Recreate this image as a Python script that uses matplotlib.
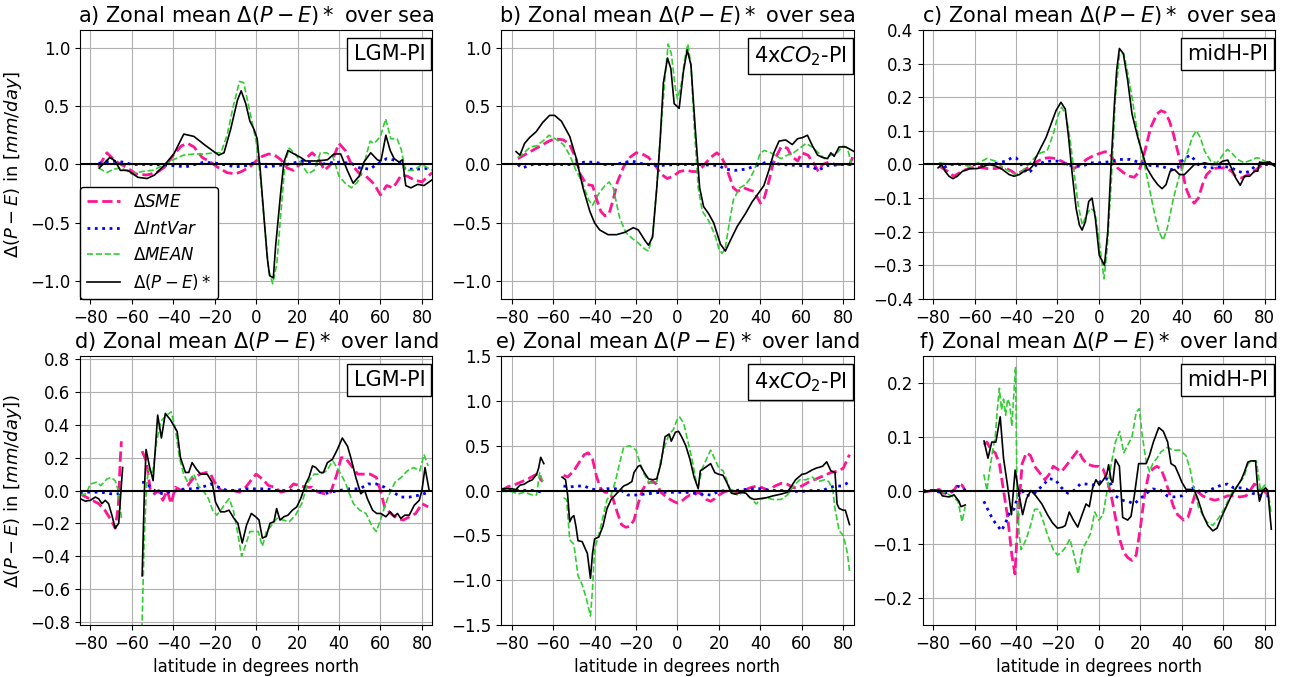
import numpy as np
import matplotlib.pyplot as plt

nan = float('nan')

# (latitude, value) pairs; nan marks the Drake passage gap over land

# a) sea, LGM-PI
a_sme = [(-76, -0.02), (-72, 0.1), (-68, 0.03), (-63, -0.02), (-58, -0.08), (-53, -0.09), (-48, -0.07),
         (-44, -0.02), (-40, 0.08), (-36, 0.16), (-33, 0.18), (-30, 0.15), (-26, 0.06), (-22, 0.02),
         (-18, -0.03), (-14, -0.07), (-10, -0.08), (-7, -0.06), (-3, -0.02), (0, 0.03), (3, 0.07),
         (6, 0.09), (9, 0.08), (12, 0.04), (15, -0.03), (18, -0.05), (21, 0.0), (24, 0.05), (27, 0.1),
         (30, 0.05), (33, -0.05), (36, 0.0), (40, 0.18), (43, 0.12), (46, 0.0), (50, -0.08), (53, -0.1),
         (56, -0.15), (58, -0.2), (60, -0.26), (63, -0.18), (66, -0.2), (68, -0.15), (70, -0.09),
         (73, -0.1), (76, -0.13), (80, -0.15), (83, -0.1), (85, -0.07)]
a_intvar = [(-76, 0.01), (-70, 0.03), (-64, 0.02), (-60, 0.0), (-50, 0.0), (-40, -0.01), (-34, -0.02),
            (-25, 0.02), (-19, 0.01), (-10, -0.02), (-5, -0.01), (0, 0.02), (5, -0.02), (15, 0.0),
            (22, 0.03), (30, 0.0), (40, 0.02), (46, 0.01), (50, -0.03), (55, -0.04), (58, 0.0),
            (63, 0.05), (66, 0.04), (70, 0.01), (72, -0.04), (78, -0.04), (85, -0.03)]
a_mean = [(-76, -0.03), (-72, -0.07), (-69, -0.04), (-65, -0.03), (-60, -0.08), (-55, -0.06), (-50, -0.05),
          (-45, -0.01), (-40, 0.04), (-35, 0.08), (-30, 0.09), (-25, 0.09), (-20, 0.1), (-17, 0.1),
          (-14, 0.25), (-11, 0.5), (-8, 0.71), (-6, 0.7), (-3, 0.45), (0, 0.2), (2, -0.1), (4, -0.5),
          (6, -0.9), (8, -1.02), (10, -0.85), (12, -0.4), (14, 0.02), (16, 0.14), (19, 0.09), (22, 0.0),
          (25, -0.08), (28, -0.05), (31, 0.1), (34, 0.1), (37, 0.07), (40, -0.1), (43, -0.16),
          (46, -0.2), (49, -0.15), (52, 0.0), (55, 0.2), (57, 0.18), (60, 0.24), (62.5, 0.39),
          (65, 0.22), (68, 0.22), (70, 0.13), (72, -0.05), (76, -0.05), (80, 0.0), (85, -0.05)]
a_pe = [(-75.7, -0.03), (-70.6, 0.06), (-68, 0.03), (-65.5, -0.05), (-62, -0.05), (-57, -0.11),
        (-52.6, -0.12), (-49, -0.09), (-44.5, -0.01), (-39.7, 0.09), (-34.9, 0.26), (-30, 0.24),
        (-25, 0.17), (-20.4, 0.11), (-18, 0.08), (-15.5, 0.1), (-12.3, 0.3), (-9, 0.55), (-7.2, 0.63),
        (-5, 0.52), (-3, 0.37), (-1, 0.3), (0.5, 0.22), (2, -0.05), (3.8, -0.45), (5.4, -0.8),
        (6.5, -0.95), (8.3, -0.97), (9.4, -0.7), (11.8, -0.25), (13.4, 0.02), (15.4, 0.12), (18.3, 0.09),
        (21.5, 0.06), (24, 0.03), (26.3, 0.03), (29.5, 0.03), (34.4, 0.04), (37.6, 0.09), (40.8, 0.09),
        (44, -0.05), (46.8, -0.16), (49.7, -0.1), (52, 0.02), (55.3, 0.1), (58.5, 0.04), (60.2, 0.03),
        (61, 0.1), (62.6, 0.25), (64.7, 0.12), (66.6, 0.05), (69, 0.02), (70.6, 0.04), (72.2, -0.18),
        (74.7, -0.2), (77.9, -0.17), (81, -0.18), (85, -0.13)]

# b) sea, 4xCO2-PI
b_sme = [(-77, 0.05), (-74, 0.08), (-70, 0.12), (-66, 0.16), (-62, 0.2), (-59, 0.22), (-55, 0.21),
         (-52, 0.17), (-49, 0.05), (-47, -0.08), (-44, -0.17), (-41, -0.18), (-39, -0.3), (-37, -0.4),
         (-35, -0.44), (-33, -0.42), (-31, -0.3), (-29, -0.15), (-26, -0.02), (-23, 0.06), (-20, 0.1),
         (-17, 0.09), (-14, 0.06), (-11, 0.0), (-8, -0.08), (-5, -0.12), (-2, -0.1), (1, -0.06),
         (4, -0.05), (7, -0.06), (10, -0.06), (13, 0.0), (16, 0.06), (19, 0.1), (21, 0.07), (23, 0.0),
         (25, -0.1), (27, -0.2), (29, -0.23), (32, -0.2), (35, -0.22), (37, -0.23), (40, -0.33),
         (42, -0.28), (44, -0.15), (46, 0.0), (48, 0.08), (50, 0.15), (53, 0.14), (55, 0.07), (58, 0.03),
         (60, 0.1), (63, 0.08), (66, 0.0), (68, -0.06), (70, 0.0), (73, 0.02), (76, 0.0), (80, 0.0),
         (83, 0.0), (85, 0.08)]
b_intvar = [(-77, 0.0), (-75, -0.03), (-70, 0.0), (-60, 0.0), (-50, 0.0), (-45, 0.02), (-40, 0.02),
            (-35, 0.0), (-30, 0.0), (-25, 0.02), (-22, 0.03), (-18, 0.01), (-15, 0.0), (-10, -0.01),
            (0, 0.0), (10, 0.0), (20, -0.01), (23, -0.04), (28, -0.05), (33, -0.04), (38, -0.01),
            (43, 0.02), (47, 0.01), (50, 0.0), (60, -0.01), (65, -0.02), (68, -0.05), (72, -0.01),
            (80, 0.0), (85, 0.0)]
b_mean = [(-77, 0.06), (-74, 0.1), (-71, 0.15), (-68, 0.16), (-65, 0.2), (-62, 0.25), (-59, 0.22),
          (-55, 0.17), (-52, 0.08), (-49, -0.05), (-46, -0.15), (-43, -0.3), (-41, -0.35), (-38, -0.25),
          (-35, -0.18), (-33, -0.15), (-31, -0.2), (-28, -0.45), (-25, -0.58), (-22, -0.63), (-19, -0.67),
          (-16, -0.72), (-14, -0.74), (-12, -0.6), (-10, -0.2), (-8, 0.3), (-6, 0.75), (-4.5, 1.03),
          (-3, 0.95), (-1, 0.65), (0, 0.56), (2, 0.7), (3.5, 0.9), (5, 1.03), (6.5, 0.85), (8, 0.35),
          (10, -0.2), (12, -0.4), (15, -0.48), (18, -0.6), (20, -0.72), (21.5, -0.76), (23, -0.72),
          (25, -0.5), (27, -0.3), (30, -0.2), (33, -0.17), (35, -0.12), (37, -0.05), (40, 0.1), (42, 0.12),
          (45, 0.1), (48, 0.07), (50, 0.05), (53, 0.08), (56, 0.1), (59, 0.14), (62, 0.18), (65, 0.15),
          (68, 0.1), (71, 0.05), (74, 0.08), (77, 0.1), (80, 0.16), (82, 0.14), (84, 0.0), (85, 0.02)]
b_pe = [(-77.9, 0.11), (-76, 0.08), (-73.8, 0.18), (-71.4, 0.23), (-68.2, 0.28), (-65, 0.36), (-61.7, 0.42),
        (-59.3, 0.42), (-56, 0.37), (-52, 0.24), (-48.8, 0.05), (-45.6, -0.2), (-42.3, -0.4), (-40, -0.5),
        (-37.5, -0.56), (-33.5, -0.6), (-29.4, -0.6), (-25.4, -0.58), (-21.3, -0.54), (-18.9, -0.56),
        (-15.7, -0.65), (-14, -0.69), (-12, -0.62), (-10, -0.2), (-8.4, 0.2), (-6.8, 0.7), (-4.8, 0.91),
        (-3.2, 0.82), (-1.6, 0.52), (0.8, 0.48), (2.9, 0.8), (4.7, 0.98), (6.5, 0.85), (8.6, 0.3),
        (10.7, -0.2), (12.6, -0.36), (15, -0.42), (17.5, -0.5), (20.7, -0.68), (23.1, -0.74),
        (25.5, -0.65), (28.8, -0.53), (32.8, -0.42), (36, -0.32), (39.3, -0.24), (41.7, -0.18),
        (44.1, -0.05), (46.5, 0.1), (49, 0.2), (52.2, 0.21), (55.4, 0.17), (57.9, 0.22), (60.3, 0.23),
        (62.7, 0.25), (65.1, 0.16), (67.6, 0.08), (70, 0.06), (72.4, 0.05), (74, 0.1), (75.6, 0.07),
        (78, 0.15), (81.2, 0.15), (85.3, 0.11)]

# c) sea, midH-PI
c_sme = [(-77, -0.005), (-73, -0.02), (-70, -0.035), (-66, -0.02), (-62, -0.01), (-58, -0.008),
         (-54, -0.012), (-50, -0.012), (-46, -0.008), (-42, -0.02), (-40, -0.03), (-37, -0.02),
         (-33, -0.005), (-30, 0.008), (-27, 0.018), (-24, 0.02), (-21, 0.018), (-18, 0.01), (-15, 0.0),
         (-12, -0.012), (-9, 0.0), (-6, 0.015), (-3, 0.025), (0, 0.032), (3, 0.038), (5, 0.035),
         (7, 0.015), (9, -0.01), (12, -0.025), (15, -0.035), (17, -0.038), (19, -0.025), (21, 0.01),
         (23, 0.06), (25, 0.11), (28, 0.15), (30, 0.16), (32, 0.155), (34, 0.13), (36, 0.09), (38, 0.04),
         (40, -0.01), (42, -0.07), (44, -0.1), (46, -0.115), (48, -0.1), (50, -0.06), (52, -0.03),
         (55, -0.012), (58, -0.01), (61, -0.01), (64, -0.02), (66, -0.035), (69, -0.04), (72, -0.03),
         (75, -0.02), (78, -0.005), (81, 0.003), (85, 0.0)]
c_intvar = [(-77, 0.005), (-75, -0.01), (-72, 0.0), (-65, 0.0), (-60, 0.0), (-55, 0.0), (-50, 0.003),
            (-45, 0.01), (-42, 0.02), (-40, 0.02), (-38, 0.005), (-35, -0.025), (-33, -0.02), (-30, 0.0),
            (-25, 0.01), (-20, 0.01), (-16, 0.0), (-12, -0.005), (-8, -0.005), (-4, 0.005), (0, 0.005),
            (5, 0.008), (10, 0.015), (15, 0.015), (20, 0.005), (25, -0.003), (30, -0.005), (35, -0.015),
            (38, -0.01), (40, 0.01), (42, 0.02), (44, 0.028), (46, 0.015), (48, 0.0), (52, -0.01),
            (55, -0.01), (60, -0.005), (64, -0.01), (67, -0.02), (70, -0.025), (73, -0.02), (76, 0.0),
            (80, 0.0), (85, 0.0)]
c_mean = [(-77, 0.005), (-72, 0.0), (-68, 0.003), (-63, -0.005), (-58, 0.005), (-54, 0.018), (-50, 0.01),
          (-46, -0.01), (-42, -0.025), (-40, -0.03), (-37, -0.02), (-34, 0.0), (-31, 0.02), (-28, 0.035),
          (-25, 0.04), (-22, 0.09), (-20, 0.14), (-18, 0.17), (-16, 0.15), (-14, 0.08), (-12, -0.02),
          (-10, -0.12), (-8, -0.18), (-6, -0.15), (-4, -0.13), (-2, -0.14), (0, -0.22), (2.5, -0.34),
          (4, -0.25), (6, -0.05), (8, 0.2), (10, 0.33), (12, 0.33), (14, 0.27), (16, 0.2), (18, 0.12),
          (20, 0.05), (22, 0.0), (24, -0.06), (27, -0.15), (29, -0.2), (31, -0.225), (33, -0.19),
          (36, -0.1), (39, -0.03), (41, 0.0), (43, 0.04), (45, 0.08), (47, 0.1), (49, 0.08), (51, 0.04),
          (54, 0.01), (57, 0.005), (60, 0.03), (62, 0.045), (64, 0.035), (67, 0.015), (70, 0.005),
          (73, 0.012), (76, 0.02), (78, 0.018), (80, 0.01), (83, 0.003), (85, 0.0)]
c_pe = [(-77.6, -0.01), (-75.8, 0.0), (-74.2, -0.02), (-72.3, -0.035), (-70.4, -0.042), (-68.3, -0.035),
        (-65.8, -0.02), (-62.6, -0.013), (-58.6, -0.012), (-55.4, -0.005), (-53, 0.0), (-49.7, -0.005),
        (-46.5, -0.015), (-43.3, -0.03), (-40.9, -0.035), (-38.4, -0.03), (-36, -0.02), (-33.6, -0.015),
        (-32, -0.005), (-30.4, 0.02), (-28, 0.05), (-25.5, 0.08), (-23.1, 0.12), (-20.7, 0.16),
        (-18.3, 0.185), (-16.2, 0.165), (-14.6, 0.08), (-13, -0.02), (-11, -0.13), (-9.4, -0.18),
        (-8.1, -0.195), (-6.5, -0.17), (-4.9, -0.11), (-3.3, -0.1), (-1.7, -0.16), (0.2, -0.27),
        (2.7, -0.3), (4.3, -0.2), (5.9, 0.0), (7.5, 0.18), (8.6, 0.28), (9.9, 0.345), (11.8, 0.33),
        (13.9, 0.25), (16, 0.15), (18.8, 0.08), (21.2, 0.03), (23.1, -0.01), (26, -0.04), (28.4, -0.06),
        (30.5, -0.072), (32.4, -0.06), (34.4, -0.02), (36.5, -0.015), (38.9, -0.03), (41.3, -0.03),
        (43.7, -0.015), (46.1, 0.0), (48.5, 0.0), (51, 0.005), (54.2, 0.0), (57.4, 0.0), (59.8, 0.01),
        (62.2, 0.013), (63.9, -0.01), (66, -0.04), (68.2, -0.062), (70.3, -0.035), (72.7, -0.035),
        (75.1, -0.02), (76.7, -0.02), (77.5, 0.007), (80, 0.005), (82.4, 0.008), (84.8, -0.005)]

# d) land, LGM-PI
d_sme = [(-85, -0.02), (-82, -0.04), (-79, -0.06), (-76, -0.08), (-73, -0.12), (-70, -0.18), (-68, -0.23),
         (-66.5, -0.1), (-65.5, 0.2), (-65, 0.3), (-60, nan),
         (-55, 0.24), (-53, 0.18), (-51, 0.0), (-49, -0.02), (-47, 0.0), (-45, -0.06), (-43, 0.0),
         (-41, -0.08), (-39, 0.02), (-36, 0.0), (-33, 0.03), (-30, 0.08), (-27, 0.1), (-24, 0.11),
         (-22, 0.1), (-20, 0.05), (-17, 0.0), (-14, 0.0), (-11, 0.0), (-8, -0.01), (-5, 0.02), (-2, 0.07),
         (0, 0.1), (3, 0.07), (6, 0.03), (9, 0.02), (12, -0.01), (15, 0.0), (18, 0.04), (21, 0.03),
         (24, 0.02), (27, 0.02), (30, -0.01), (33, -0.02), (36, -0.01), (39, 0.1), (41, 0.2), (43, 0.2),
         (46, 0.15), (49, 0.1), (52, 0.1), (55, 0.1), (58, 0.08), (60, 0.0), (62, -0.1), (65, -0.14),
         (68, -0.17), (71, -0.18), (74, -0.16), (77, -0.14), (80, -0.08), (83, -0.1)]
d_intvar = [(-85, -0.01), (-80, -0.01), (-75, -0.01), (-70, -0.02), (-66, -0.02), (-65, 0.0), (-60, nan),
            (-55, 0.05), (-53, 0.05), (-51, 0.02), (-48, -0.01), (-45, -0.02), (-42, -0.01), (-38, 0.0),
            (-34, 0.01), (-30, 0.01), (-26, 0.02), (-22, 0.04), (-18, 0.02), (-14, 0.0), (-10, 0.0),
            (-5, 0.01), (0, 0.01), (5, 0.01), (10, 0.0), (15, 0.0), (20, 0.0), (25, 0.0), (30, 0.0),
            (33, -0.02), (36, -0.01), (40, 0.0), (45, 0.01), (50, 0.01), (54, 0.04), (58, 0.04),
            (62, 0.02), (66, -0.01), (70, -0.04), (74, -0.04), (78, -0.03), (81, -0.02), (83, -0.01)]
d_mean = [(-85, -0.03), (-82, -0.02), (-80, 0.04), (-77, 0.05), (-75, 0.03), (-72, 0.07), (-70, 0.08),
          (-68, 0.06), (-66.5, 0.0), (-65, -0.17), (-60, nan),
          (-55.2, -0.9), (-54, -0.3), (-53, 0.0), (-52, 0.13), (-50, 0.1), (-48, 0.3), (-46, 0.42),
          (-44, 0.45), (-41, 0.48), (-39, 0.38), (-37, 0.2), (-35, 0.1), (-33, 0.05), (-30, 0.1),
          (-28, 0.03), (-25, -0.01), (-23, -0.05), (-21, -0.12), (-19, -0.15), (-17, -0.12), (-15, -0.08),
          (-13, -0.05), (-11, -0.12), (-9, -0.25), (-7, -0.4), (-5, -0.33), (-3, -0.25), (-1, -0.25),
          (1, -0.25), (3, -0.34), (5, -0.25), (7, -0.22), (10, -0.17), (13, -0.18), (16, -0.19),
          (19, -0.15), (22, -0.08), (25, 0.05), (28, 0.1), (31, 0.1), (34, 0.12), (37, 0.18), (40, 0.12),
          (43, 0.05), (45, -0.02), (47, -0.08), (50, -0.12), (53, -0.14), (56, -0.22), (58, -0.25),
          (60, -0.18), (62, -0.1), (64, -0.03), (67, 0.05), (70, 0.08), (73, 0.12), (76, 0.14),
          (79, 0.12), (81, 0.22), (83, 0.15)]
d_pe = [(-84.9, -0.05), (-82.4, -0.065), (-80, -0.06), (-77.6, -0.04), (-76, -0.05), (-74.4, -0.08),
        (-72.8, -0.06), (-71.2, -0.08), (-69.6, -0.15), (-68, -0.23), (-66.3, -0.2), (-65.2, 0.0),
        (-64.4, 0.14), (-60, nan),
        (-55, -0.52), (-53.9, 0.0), (-53.1, 0.25), (-51.5, 0.15), (-49.7, 0.06), (-47.5, 0.46),
        (-45.7, 0.32), (-43.8, 0.47), (-41.3, 0.43), (-38.1, 0.36), (-36.5, 0.2), (-34.1, 0.11),
        (-32.5, 0.11), (-30.9, 0.17), (-28.8, 0.13), (-26.8, 0.1), (-23.6, 0.1), (-21.2, 0.05),
        (-19.6, -0.07), (-17.2, -0.13), (-15.2, -0.13), (-13.1, -0.12), (-10.7, -0.17), (-8.8, -0.2),
        (-6.7, -0.32), (-4.6, -0.21), (-2.3, -0.14), (-0.2, -0.16), (1.4, -0.18), (3, -0.29),
        (4.9, -0.28), (6.7, -0.2), (8.6, -0.19), (9.9, -0.11), (11.5, -0.18), (13.4, -0.16),
        (15.4, -0.15), (17.5, -0.12), (19.6, -0.1), (21.5, -0.05), (23.9, 0.04), (25.5, 0.08),
        (27.2, 0.15), (28.8, 0.14), (30.9, 0.11), (32.5, 0.11), (34.4, 0.17), (36.8, 0.19), (39.2, 0.25),
        (41.6, 0.32), (44.1, 0.27), (45.7, 0.2), (48.1, 0.08), (50.5, -0.02), (52.4, 0.0), (53.7, -0.05),
        (56.2, -0.12), (58.2, -0.14), (60.2, -0.14), (62.6, -0.16), (64.7, -0.13), (66.6, -0.16),
        (68.2, -0.14), (69.8, -0.17), (71.8, -0.15), (73.9, -0.15), (76.3, -0.09), (78.7, -0.06),
        (80, 0.0), (81.5, 0.14), (83.5, 0.0)]

# e) land, 4xCO2-PI
e_sme = [(-85, 0.0), (-82, 0.04), (-78, 0.07), (-75, 0.1), (-72, 0.13), (-69, 0.17), (-67, 0.19),
         (-66, 0.12), (-65, 0.1), (-60, nan),
         (-55, 0.17), (-53, 0.15), (-50, 0.22), (-47, 0.33), (-45, 0.4), (-43, 0.42), (-41, 0.35),
         (-39, 0.15), (-37, 0.02), (-35, -0.02), (-33, -0.02), (-31, -0.1), (-29, -0.25), (-27, -0.38),
         (-25, -0.41), (-23, -0.4), (-21, -0.33), (-19, -0.15), (-17, 0.0), (-15, 0.08), (-12, 0.1),
         (-10, 0.07), (-8, -0.02), (-5, -0.08), (-2, -0.12), (0, -0.14), (2, -0.12), (4, -0.08),
         (6, -0.05), (8, -0.05), (10, -0.02), (12, -0.05), (14, -0.1), (16, -0.12), (18, -0.09),
         (20, -0.05), (23, -0.01), (26, 0.0), (29, -0.02), (32, 0.0), (35, 0.03), (38, 0.05), (41, 0.03),
         (44, 0.0), (47, 0.05), (50, 0.08), (53, 0.07), (56, 0.03), (60, 0.05), (63, 0.09), (66, 0.12),
         (70, 0.16), (74, 0.2), (78, 0.22), (80, 0.25), (82, 0.35), (83, 0.4)]
e_intvar = [(-85, 0.0), (-80, 0.0), (-75, 0.0), (-70, 0.0), (-67, -0.01), (-65, -0.02), (-60, nan),
            (-55, 0.05), (-52, 0.04), (-48, 0.05), (-45, 0.05), (-42, 0.02), (-38, 0.0), (-34, 0.02),
            (-30, 0.02), (-27, 0.0), (-24, -0.05), (-20, -0.05), (-16, -0.04), (-12, -0.03), (-8, -0.02),
            (-4, -0.02), (0, -0.02), (4, -0.02), (8, -0.03), (12, -0.04), (16, -0.05), (20, -0.01),
            (24, 0.0), (28, 0.0), (32, 0.01), (36, 0.02), (40, 0.02), (45, 0.0), (50, 0.0), (55, -0.01),
            (60, -0.01), (65, 0.0), (70, 0.0), (73, 0.03), (76, 0.05), (79, 0.05), (81, 0.07), (83, 0.1)]
e_mean = [(-85, -0.01), (-80, -0.01), (-77, -0.04), (-74, -0.02), (-70, -0.05), (-68, -0.05),
          (-66.5, 0.2), (-65, 0.1), (-60, nan),
          (-55, -0.08), (-53.5, -0.1), (-52, -0.55), (-50, -0.6), (-48, -0.95), (-46, -1.05), (-44, -1.2),
          (-42, -1.4), (-41, -1.1), (-40, -0.65), (-38, -0.5), (-36, -0.3), (-34, -0.1), (-32, -0.05),
          (-30, 0.1), (-28, 0.3), (-26, 0.48), (-23, 0.5), (-20, 0.45), (-18, 0.3), (-16, 0.18),
          (-14, 0.1), (-12, 0.08), (-10, 0.1), (-8, 0.35), (-6, 0.5), (-4, 0.63), (-2, 0.68), (0, 0.8),
          (1, 0.82), (3, 0.75), (5, 0.55), (7, 0.35), (9, 0.1), (10, 0.05), (12, 0.25), (14, 0.35),
          (16, 0.45), (18, 0.35), (20, 0.25), (22, 0.22), (24, 0.1), (26, -0.02), (29, -0.05),
          (32, -0.02), (35, -0.08), (38, -0.15), (40, -0.1), (43, -0.08), (46, -0.1), (50, -0.1),
          (53, -0.05), (56, 0.05), (59, 0.12), (62, 0.12), (65, 0.15), (68, 0.1), (71, 0.12), (73, 0.1),
          (75, 0.0), (76, -0.2), (78, -0.45), (80, -0.5), (82, -0.7), (83, -0.9)]
e_pe = [(-85, 0.02), (-82, 0.02), (-80, 0.02), (-78, 0.01), (-76, 0.06), (-74, 0.07), (-72, 0.1),
        (-70, 0.12), (-68, 0.18), (-67, 0.25), (-66, 0.37), (-64.5, 0.3), (-60, nan),
        (-55.7, 0.15), (-54, 0.12), (-53, -0.05), (-52, -0.35), (-51, -0.3), (-50, -0.28), (-49, -0.4),
        (-48, -0.56), (-46, -0.57), (-44.5, -0.65), (-43.5, -0.7), (-42, -0.98), (-41, -0.7),
        (-40, -0.54), (-38, -0.52), (-36, -0.4), (-34, -0.2), (-32, -0.1), (-30, -0.05), (-28, 0.0),
        (-26, 0.05), (-24, 0.07), (-22, 0.1), (-21, 0.2), (-19, 0.27), (-18, 0.28), (-16, 0.2),
        (-14, 0.13), (-12, 0.12), (-10, 0.13), (-8, 0.3), (-6, 0.6), (-4, 0.63), (-3, 0.55), (-1, 0.65),
        (0.5, 0.66), (2, 0.6), (4, 0.5), (6, 0.35), (8, 0.15), (10, 0.02), (11, 0.22), (13, 0.25),
        (16, 0.3), (18, 0.2), (20, 0.18), (22, 0.17), (24, 0.08), (26, -0.03), (28, -0.04), (31, -0.02),
        (33, -0.03), (35, -0.08), (37, -0.1), (40, -0.09), (43, -0.08), (46, -0.06), (50, -0.04),
        (53, -0.02), (55, 0.05), (57, 0.12), (60, 0.18), (62, 0.19), (65, 0.23), (67, 0.25), (70, 0.27),
        (72, 0.32), (74, 0.22), (76, 0.2), (77, -0.15), (78, -0.2), (80, -0.22), (81, -0.22),
        (83, -0.38)]

# f) land, midH-PI
f_sme = [(-85, -0.003), (-80, 0.0), (-77, 0.002), (-75, -0.005), (-72, -0.005), (-70, 0.0), (-68, 0.012),
         (-66, 0.01), (-64.5, 0.0), (-60, nan),
         (-55.5, 0.085), (-54, 0.09), (-52, 0.075), (-50, 0.07), (-48, 0.05), (-46, 0.0), (-44, -0.05),
         (-42, -0.12), (-40.5, -0.155), (-39, -0.05), (-37, 0.05), (-35, 0.07), (-33, 0.065),
         (-31, 0.045), (-28, 0.03), (-26, 0.02), (-24, 0.03), (-22, 0.045), (-20, 0.04), (-18, 0.035),
         (-16, 0.045), (-14, 0.055), (-12, 0.065), (-10, 0.075), (-8, 0.06), (-6, 0.05), (-4, 0.047),
         (-2, 0.045), (0, 0.045), (2, 0.04), (4, 0.02), (6, -0.01), (8, -0.05), (10, -0.09),
         (12, -0.115), (14, -0.125), (16, -0.13), (18, -0.12), (20, -0.07), (22, -0.01), (24, 0.03),
         (26, 0.04), (28, 0.045), (30, 0.04), (32, 0.02), (34, -0.005), (36, -0.03), (38, -0.045),
         (41, -0.055), (43, -0.05), (45, -0.025), (47, 0.0), (50, -0.01), (53, -0.015), (56, -0.018),
         (59, -0.015), (62, -0.01), (65, -0.01), (68, -0.012), (71, -0.01), (73, 0.0), (75, 0.012),
         (77, 0.005), (79, 0.0), (81, -0.005), (83, -0.012)]
f_intvar = [(-85, 0.0), (-80, 0.0), (-75, -0.005), (-72, -0.003), (-70, 0.0), (-68, 0.008), (-66, 0.005),
            (-64.5, 0.0), (-60, nan),
            (-55.5, -0.02), (-53, -0.04), (-51, -0.055), (-49, -0.065), (-47, -0.075), (-45, -0.06),
            (-43, -0.04), (-41, -0.035), (-39, -0.01), (-37, 0.0), (-35, -0.01), (-31, -0.005),
            (-27, 0.01), (-24, 0.022), (-21, 0.02), (-18, 0.005), (-15, -0.005), (-12, 0.0), (-9, 0.012),
            (-6, 0.012), (-3, 0.01), (0, 0.015), (3, 0.022), (5, 0.02), (8, -0.01), (11, -0.018),
            (14, -0.02), (17, -0.025), (20, -0.015), (23, -0.005), (26, 0.003), (30, 0.0), (33, -0.01),
            (36, -0.012), (40, -0.01), (43, 0.002), (46, 0.005), (50, -0.005), (53, 0.0), (56, 0.005),
            (59, 0.01), (62, 0.012), (65, 0.005), (68, 0.005), (71, 0.003), (74, -0.005), (77, -0.008),
            (80, -0.01), (83, -0.01)]
f_mean = [(-85, -0.003), (-80, 0.0), (-77, 0.002), (-74, -0.005), (-71, -0.01), (-68, -0.02),
          (-66, -0.058), (-64.5, -0.03), (-60, nan),
          (-55.5, 0.03), (-54, 0.0), (-53, 0.03), (-51, 0.08), (-50, 0.1), (-49, 0.15), (-48, 0.19),
          (-47, 0.15), (-46, 0.17), (-45, 0.14), (-44, 0.17), (-43, 0.16), (-42, 0.12), (-41, 0.18),
          (-40.2, 0.23), (-39.5, 0.0), (-38.5, -0.08), (-37.5, -0.11), (-35, -0.09), (-33, -0.065),
          (-31, -0.035), (-29, -0.035), (-27, -0.055), (-25, -0.08), (-22, -0.11), (-20, -0.12),
          (-18, -0.115), (-16, -0.105), (-14, -0.09), (-12, -0.12), (-10, -0.155), (-8, -0.11),
          (-6, -0.095), (-4, -0.08), (-2, -0.04), (0, -0.055), (2, -0.045), (4, 0.0), (6, 0.05),
          (8, 0.09), (10, 0.11), (12, 0.07), (14, 0.085), (16, 0.1), (18, 0.145), (19.5, 0.152),
          (21, 0.1), (23, 0.05), (24.5, 0.035), (26, 0.05), (28, 0.06), (30, 0.072), (33, 0.08),
          (36, 0.075), (39, 0.075), (42, 0.065), (44, 0.04), (46, 0.0), (48, -0.03), (50, -0.045),
          (52, -0.058), (55, -0.065), (58, -0.05), (61, -0.03), (64, -0.005), (67, 0.01), (70, 0.025),
          (72, 0.05), (74, 0.055), (76, 0.055), (78, 0.0), (80, 0.01), (82, -0.01), (83, -0.04)]
f_pe = [(-84.3, -0.003), (-79.5, 0.001), (-77.1, 0.0), (-75.5, -0.01), (-72.3, -0.012), (-69.9, -0.008),
        (-67.5, -0.02), (-66.6, -0.03), (-64.5, -0.027), (-60, nan),
        (-55.4, 0.092), (-53.5, 0.06), (-51.7, 0.09), (-49.7, 0.09), (-47.6, 0.137), (-46, 0.06),
        (-44.1, 0.01), (-42.2, -0.045), (-40.4, 0.038), (-38.8, 0.0), (-36.8, -0.045), (-34.9, -0.015),
        (-32.8, 0.0), (-30.4, -0.01), (-27.5, -0.025), (-24.8, -0.045), (-22.4, -0.06), (-20, -0.07),
        (-17.5, -0.068), (-16.2, -0.065), (-14.3, -0.04), (-12.3, -0.055), (-10.2, -0.068),
        (-8.1, -0.045), (-6.2, -0.025), (-4.6, -0.03), (-3, 0.005), (-1.4, 0.02), (0.2, 0.01),
        (2.2, 0.02), (3.8, 0.03), (4.7, 0.048), (5.9, 0.02), (6.7, 0.015), (8, 0.058), (9.9, 0.045),
        (11.5, -0.05), (13.9, -0.055), (15.5, -0.048), (17.1, -0.01), (19.2, 0.05), (21.2, 0.05),
        (22.8, 0.05), (24.4, 0.065), (26.3, 0.09), (28.9, 0.117), (31.1, 0.11), (33.2, 0.09),
        (34.8, 0.05), (36.8, 0.045), (38.5, 0.03), (40.1, 0.015), (42.1, 0.002), (44.2, 0.002),
        (46.1, 0.0), (47.7, -0.015), (50.2, -0.045), (52.6, -0.065), (55, -0.075), (57, -0.07),
        (59.1, -0.05), (61.5, -0.03), (63.9, -0.01), (66.3, 0.005), (68.7, 0.02), (70.3, 0.035),
        (71.9, 0.053), (73.5, 0.055), (75.6, 0.055), (76.7, 0.0), (77.5, -0.02), (79.1, 0.0),
        (80.4, 0.005), (81.5, 0.0), (83.2, -0.072)]

letters = ['a', 'b', 'c', 'd', 'e', 'f']
regions = ['sea'] * 3 + ['land'] * 3
experiments = ['LGM-PI', r'4x$CO_2$-PI', 'midH-PI'] * 2
panel_data = [(a_sme, a_intvar, a_mean, a_pe), (b_sme, b_intvar, b_mean, b_pe),
              (c_sme, c_intvar, c_mean, c_pe), (d_sme, d_intvar, d_mean, d_pe),
              (e_sme, e_intvar, e_mean, e_pe), (f_sme, f_intvar, f_mean, f_pe)]
ylims = [(-1.15, 1.15), (-1.15, 1.15), (-0.4, 0.4), (-0.82, 0.82), (-1.5, 1.5), (-0.25, 0.25)]
ystep = [0.5, 0.5, 0.1, 0.2, 0.5, 0.1]
ylabels = {0: r'$\Delta (P-E)$ in $[mm/day]$', 3: r'$\Delta (P-E)$ in $[mm/day]$)'}

labels = [r'$\Delta SME$', r'$\Delta IntVar$', r'$\Delta MEAN$', r'$\Delta (P-E)*$']
colors = ['#ff1493', 'blue', 'limegreen', 'black']
styles = ['--', ':', '--', '-']
widths = [2.0, 2.0, 1.2, 1.2]

fig, axes = plt.subplots(2, 3, figsize=(12.98, 6.77), dpi=100)
fig.subplots_adjust(left=0.0616, right=0.9823, bottom=0.0768, top=0.9557, wspace=0.196, hspace=0.212)

for i, ax in enumerate(axes.flat):
    for series, lab, col, ls, lw in zip(panel_data[i], labels, colors, styles, widths):
        lat, val = np.array(series).T
        ax.plot(lat, val, color=col, ls=ls, lw=lw, label=lab)
    ax.axhline(0, color='k', lw=1.5)
    ax.set_xlim(-85, 85)
    ax.set_ylim(*ylims[i])
    ax.set_xticks(np.arange(-80, 81, 20))
    top = round(ylims[i][1] / ystep[i]) * ystep[i]
    ax.set_yticks(np.linspace(-top, top, int(round(2 * top / ystep[i])) + 1))
    ax.grid(True)
    ax.tick_params(labelsize=12)
    ax.set_title(letters[i] + r') Zonal mean $\Delta (P-E)*$ over ' + regions[i], fontsize=15)
    ax.text(0.98, 0.948, experiments[i], transform=ax.transAxes, ha='right', va='top', fontsize=15,
            bbox=dict(boxstyle='square,pad=0.3', fc='white', ec='black'), zorder=5)
    if i in ylabels:
        ax.set_ylabel(ylabels[i], fontsize=13)
    if i >= 3:
        ax.set_xlabel('latitude in degrees north', fontsize=12)

leg = axes[0, 0].legend(loc='lower left', fontsize=12, framealpha=1, fancybox=True, borderaxespad=0)
leg.get_frame().set_edgecolor('black')

fig.savefig('out.png', dpi=100)
